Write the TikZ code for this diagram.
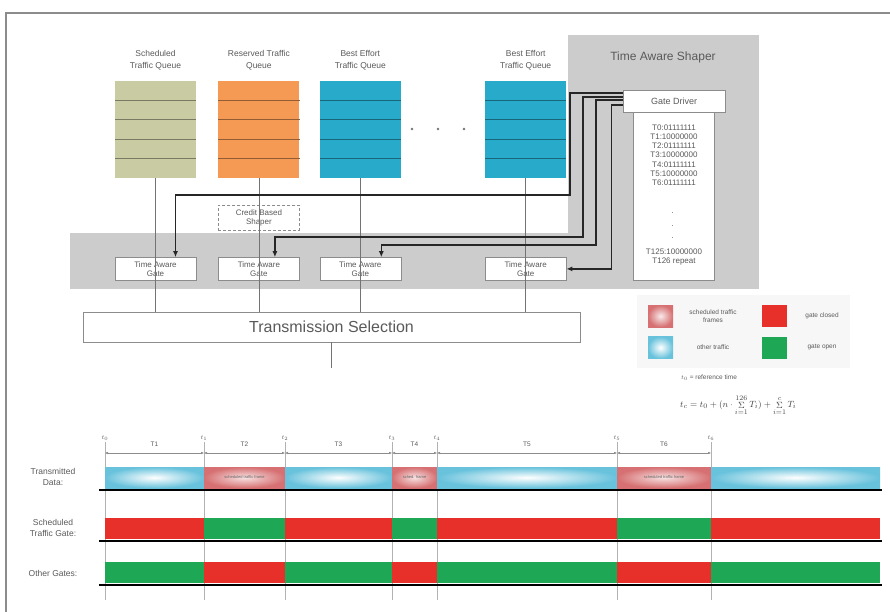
\documentclass[tikz,border=0pt]{standalone}
\usepackage{fontspec}
\setmainfont{Liberation Sans}
\usepackage{tikz}
\usetikzlibrary{arrows.meta, positioning, calc}
\definecolor{QueueKhaki}{RGB}{201, 204, 163}
\definecolor{QueueOrange}{RGB}{245, 154, 85}
\definecolor{QueueCyan}{RGB}{40, 170, 203}
\definecolor{PanelGray}{RGB}{204, 204, 204}
\definecolor{TextGray}{RGB}{90, 90, 90}
\definecolor{FrameBlue}{RGB}{104, 194, 220}
\definecolor{FramePink}{RGB}{214, 112, 114}
\definecolor{GateRed}{RGB}{232, 48, 42}
\definecolor{GateGreen}{RGB}{30, 168, 85}

\begin{document}
\begin{tikzpicture}[
    x=1pt, y=-1pt,
    font=\fontsize{8.5}{10}\selectfont,
    queue/.style={
        rectangle, minimum width=81pt, minimum height=97pt, inner sep=0pt
    },
    gate/.style={
        rectangle, draw=black!45, fill=white, text=TextGray,
        minimum width=81pt, minimum height=23pt, inner sep=0pt, align=center,
        font=\fontsize{8}{9.5}\selectfont
    },
    qlabel/.style={text=TextGray, align=center, inner sep=1pt, font=\fontsize{8.5}{12}\selectfont},
    swatch/.style={rectangle, minimum width=25pt, minimum height=22pt, inner sep=0pt},
    keytext/.style={text=TextGray, align=center, font=\fontsize{6.5}{8}\selectfont},
    wire/.style={draw=black!55, line width=0.5pt},
    ctrl/.style={draw=black!85, line width=1.5pt, -{Latex[length=6pt,width=5pt]}},
    tick/.style={draw=black!30, line width=0.4pt},
    baseline/.style={draw=black, line width=2pt}
]
\useasboundingbox (0,0) rectangle (890,612);

% Frame and grey panels
\draw[black!45, line width=1.5pt] (6,612) -- (6,13) -- (890,13);
\fill[PanelGray] (70,233) rectangle (759,289);
\fill[PanelGray] (568,35) rectangle (759,289);

% Queues
\node[queue, fill=QueueKhaki] (q1) at (155.5,129.5) {};
\node[queue, fill=QueueOrange, right=22pt of q1] (q2) {};
\node[queue, fill=QueueCyan, right=20pt of q2] (q3) {};
\node[queue, fill=QueueCyan, right=84pt of q3] (q4) {};
\foreach \q/\c in {q1/QueueKhaki, q2/QueueOrange, q3/QueueCyan, q4/QueueCyan}
  \foreach \k in {1,...,4}
    \draw[\c!60!black, line width=0.9pt] ($(\q.north west)!\k/5!(\q.south west)$) -- ($(\q.north east)!\k/5!(\q.south east)$);

\node[qlabel, above=9pt of q1] (q1lbl) {Scheduled\\Traffic Queue};
\node[qlabel, above=9pt of q2] (q2lbl) {Reserved Traffic\\Queue};
\node[qlabel, above=9pt of q3] (q3lbl) {Best Effort\\Traffic Queue};
\node[qlabel, above=9pt of q4] (q4lbl) {Best Effort\\Traffic Queue};
\foreach \i in {0,1,2}
  \fill[black!55] (412+26*\i,129) circle (1.3pt);

% Time aware shaper
\node[text=TextGray, font=\fontsize{12}{14}\selectfont] (tas) at (663,57) {Time Aware Shaper};
\node[gate, minimum width=102pt, minimum height=22pt, font=\fontsize{9}{10}\selectfont] (drv) at (674,101) {Gate Driver};
\node[gate, minimum width=81pt, minimum height=168pt, below=0pt of drv] (sched) {};
\node[text=TextGray, align=center, font=\fontsize{8}{9.2}\selectfont, below=9pt of sched.north] (slots)
  {T0:01111111\\T1:10000000\\T2:01111111\\T3:10000000\\T4:01111111\\T5:10000000\\T6:01111111};
\node[text=TextGray, align=center, font=\fontsize{8}{12.5}\selectfont] (vdots) at (672.5,226) {.\\.\\.};
\node[text=TextGray, align=center, font=\fontsize{8}{9.2}\selectfont, above=12pt of sched.south] (last)
  {T125:10000000\\T126 repeat};

% Gates
\node[gate, below=79pt of q1] (g1) {Time Aware\\Gate};
\node[gate, below=79pt of q2] (g2) {Time Aware\\Gate};
\node[gate, below=79pt of q3] (g3) {Time Aware\\Gate};
\node[gate, below=79pt of q4] (g4) {Time Aware\\Gate};
\node[gate, densely dashed, minimum height=25pt, below=27pt of q2] (cbs) {Credit Based\\Shaper};

\node[gate, minimum width=497pt, minimum height=30pt, font=\fontsize{16}{18}\selectfont] (ts) at (331.5,327) {Transmission Selection};
\coordinate[below=26pt of ts] (tsout);

% Paths
\foreach \q in {q1,q2,q3,q4}
  \draw[wire] (\q.south) -- (\q.south |- ts.north);
\draw[wire] (ts.south) -- (tsout);

\draw[ctrl] ([yshift=8pt]drv.west) -| (570,195) -| ([xshift=20pt]g1.north);
\draw[ctrl] ([yshift=4pt]drv.west) -| (583,237) -| ([xshift=16pt]g2.north);
\draw[ctrl] ([yshift=1pt]drv.west) -| (596,245) -| ([xshift=21pt]g3.north);
\draw[ctrl] ([yshift=-4pt]drv.west) -| ([xshift=45pt]g4.east) -- (g4.east);

% Legend
\fill[black!3] (637,295) rectangle (850,368);
\node[swatch, inner color=FramePink!15, outer color=FramePink] (kSched) at (660.5,316) {};
\node[swatch, inner color=white, outer color=FrameBlue] (kOther) at (660.5,347.5) {};
\node[swatch, fill=GateRed] (kClosed) at (774,316) {};
\node[swatch, fill=GateGreen] (kOpen) at (774,347.5) {};
\node[keytext] at (713,316) (kSchedTxt) {scheduled traffic\\frames};
\node[keytext] at (713,347.5) (kOtherTxt) {other traffic};
\node[keytext] at (822,316) (kClosedTxt) {gate closed};
\node[keytext] at (822,347.5) (kOpenTxt) {gate open};

\node[keytext, anchor=west, inner sep=0pt] (tref) at (681,378) {$t_0$ = reference time};
\node[text=black!75, anchor=west, inner sep=0pt, font=\fontsize{9.5}{11}\selectfont] (formula) at (680,405)
  {$t_c = t_0 + (n\cdot\mathop{\Sigma}\limits_{i=1}^{126} T_i) + \mathop{\Sigma}\limits_{i=1}^{c} T_i$};

% Timeline
\foreach \x [count=\i from 0] in {105,204,285,392,437,617,711} {
  \node[text=TextGray, font=\fontsize{6}{7}\selectfont, inner sep=1pt] (tl\i) at (\x,438) {$t_{\i}$};
  \coordinate (m\i) at (\x,453);
  \coordinate (b\i) at (\x,600);
  \draw[tick] (tl\i.south) -- (b\i);
}
\foreach \a/\b [count=\j] in {0/1,1/2,2/3,3/4,4/5,5/6}
  \draw[tick, draw=black!45, {Latex[length=3pt,width=2.5pt]}-{Latex[length=3pt,width=2.5pt]}] (m\a) -- (m\b)
    node[midway, above=3pt, text=TextGray, font=\fontsize{6.5}{8}\selectfont] {T\j};

\foreach \a/\b/\k in {105/204/1, 204/285/2, 285/392/3, 392/437/4, 437/617/5, 617/711/6, 711/880/7} {
  \ifodd\k\relax
    \shade[inner color=white, outer color=FrameBlue] (\a,467) rectangle (\b,488);
    \fill[GateRed] (\a,518) rectangle (\b,539);
    \fill[GateGreen] (\a,562) rectangle (\b,583);
  \else
    \shade[inner color=FramePink!20, outer color=FramePink] (\a,467) rectangle (\b,488);
    \fill[GateGreen] (\a,518) rectangle (\b,539);
    \fill[GateRed] (\a,562) rectangle (\b,583);
  \fi
}
\node[text=black!60, font=\fontsize{4}{5}\selectfont] (f2) at (244.5,477.5) {scheduled traffic frame};
\node[text=black!60, font=\fontsize{4}{5}\selectfont] (f4) at (414.5,477.5) {sched. frame};
\node[text=black!60, font=\fontsize{4}{5}\selectfont] (f6) at (664,477.5) {scheduled traffic frame};

\draw[baseline] (99,490) -- (882,490);
\draw[baseline] (99,541) -- (882,541);
\draw[baseline] (99,585) -- (882,585);

\node[qlabel, font=\fontsize{8.5}{10.5}\selectfont] (rowData) at (53,477) {Transmitted\\Data:};
\node[qlabel, font=\fontsize{8.5}{10.5}\selectfont] (rowSched) at (53,528) {Scheduled\\Traffic Gate:};
\node[qlabel, font=\fontsize{8.5}{10.5}\selectfont] (rowOther) at (53,573) {Other Gates:};

\end{tikzpicture}
\end{document}
